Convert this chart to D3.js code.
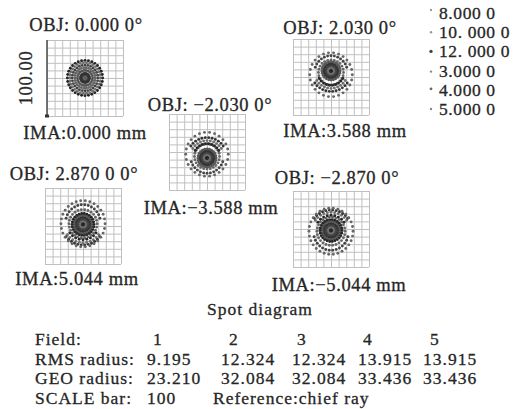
<!DOCTYPE html>
<html><head><meta charset="utf-8">
<script src="https://cdn.jsdelivr.net/npm/d3@7"></script>
<style>
html,body{margin:0;padding:0;background:#fff;}
svg{display:block;font-family:"Liberation Serif","Times New Roman",serif;}
</style></head><body>
<svg id="chart" width="520" height="409"></svg>
<script>
// ---- field and wavelength data ----
const objLabels = ["OBJ: 0.000 0°", "OBJ: 2.030 0°", "OBJ: −2.030 0°", "OBJ: 2.870 0 0°", "OBJ: −2.870 0°"];
const imaLabels = ["IMA:0.000 mm", "IMA:3.588 mm", "IMA:−3.588 mm", "IMA:5.044 mm", "IMA:−5.044 mm"];
const fieldNumbers = ["1", "2", "3", "4", "5"];
const rmsRadius = ["9.195", "12.324", "12.324", "13.915", "13.915"];
const geoRadius = ["23.210", "32.084", "32.084", "33.436", "33.436"];
const wavelengths = ["8.000 0", "10. 000 0", "12. 000 0", "3.000 0", "4.000 0", "5.000 0"];
const scaleBarLabel = "100.00";
const scaleBarValue = "100";
const referenceLabel = "Reference:chief ray";
const gridTicks = [-50, -40, -30, -20, -10, 0, 10, 20, 30, 40, 50];   // µm

// Ray rings per field, in µm (y up): [cx, cy, rx, ry, rays, startDeg, endDeg, wavelengthIndex]
const ringsField1 = [
  [0, 0, 1.2, 1.2, 5, 0, 360, 2],
  [0, 0, 2.8, 2.8, 10, 0, 360, 5],
  [0, 0, 4.4, 4.4, 14, 0, 360, 0],
  [0, 0, 6.0, 6.0, 18, 0, 360, 4],
  [0, 0, 10.0, 10.0, 22, 0, 360, 3],
  [0, 0, 13.5, 13.5, 26, 0, 360, 1],
  [0, 0, 17.0, 17.0, 28, 0, 360, 0],
  [0, 0, 20.2, 20.2, 30, 0, 360, 5],
  [0, 0, 23.2, 23.2, 32, 0, 360, 2]
];
const ringsField2 = [
  [0, 8, 2.0, 2.0, 6, 0, 360, 2],
  [0, 8, 4.5, 4.5, 12, 0, 360, 5],
  [0, 8, 7.0, 7.0, 16, 0, 360, 0],
  [0, 8, 9.5, 9.5, 20, 0, 360, 4],
  [0, 8, 12.0, 12.0, 24, 0, 360, 3],
  [0, 6, 16.5, 16.5, 24, 0, 360, 1],
  [0, 5, 22.0, 23.0, 13, 20, 160, 0],
  [0, 7, 18.0, 18.0, 10, 210, 330, 2],
  [0, 7, 22.0, 22.0, 11, 212, 328, 5],
  [0, 7, 26.0, 26.0, 12, 215, 325, 4],
  [0, 3, 28.0, 29.0, 26, 0, 360, 1]
];
const ringsField3 = [
  [0, -8, 2.0, 2.0, 6, 0, 360, 2],
  [0, -8, 4.5, 4.5, 12, 0, 360, 5],
  [0, -8, 7.0, 7.0, 16, 0, 360, 0],
  [0, -8, 9.5, 9.5, 20, 0, 360, 4],
  [0, -8, 12.0, 12.0, 24, 0, 360, 3],
  [0, -6, 16.5, 16.5, 24, 0, 360, 1],
  [0, -5, 22.0, 23.0, 13, -20, -160, 0],
  [0, -7, 18.0, 18.0, 10, -210, -330, 2],
  [0, -7, 22.0, 22.0, 11, -212, -328, 5],
  [0, -7, 26.0, 26.0, 12, -215, -325, 4],
  [0, -3, 28.0, 29.0, 26, 0, 360, 1]
];
const ringsField4 = [
  [0, 2, 2.0, 2.0, 6, 0, 360, 2],
  [0, 2, 4.5, 4.5, 12, 0, 360, 5],
  [0, 2, 7.0, 7.0, 16, 0, 360, 0],
  [0, 2, 9.5, 9.5, 20, 0, 360, 4],
  [0, 2, 12.0, 12.0, 24, 0, 360, 3],
  [0, 2, 14.5, 14.5, 26, 0, 360, 2],
  [0, 3, 18.5, 18.5, 26, 0, 360, 1],
  [0, 4, 23.0, 24.0, 14, 15, 165, 0],
  [0, 3, 21.0, 21.0, 9, 215, 325, 2],
  [0, 3, 25.0, 25.0, 11, 215, 325, 5],
  [0, 3, 28.0, 28.0, 12, 218, 322, 4],
  [0, 3, 29.0, 30.4, 30, 0, 360, 1]
];
const ringsField5 = [
  [0, -2, 2.0, 2.0, 6, 0, 360, 2],
  [0, -2, 4.5, 4.5, 12, 0, 360, 5],
  [0, -2, 7.0, 7.0, 16, 0, 360, 0],
  [0, -2, 9.5, 9.5, 20, 0, 360, 4],
  [0, -2, 12.0, 12.0, 24, 0, 360, 3],
  [0, -2, 14.5, 14.5, 26, 0, 360, 2],
  [0, -3, 18.5, 18.5, 26, 0, 360, 1],
  [0, -4, 23.0, 24.0, 14, -15, -165, 0],
  [0, -3, 21.0, 21.0, 9, -215, -325, 2],
  [0, -3, 25.0, 25.0, 11, -215, -325, 5],
  [0, -3, 28.0, 28.0, 12, -218, -322, 4],
  [0, -3, 29.0, 30.4, 30, 0, 360, 1]
];
const fieldRings = [ringsField1, ringsField2, ringsField3, ringsField4, ringsField5];

// ---- layout & styles ----
const BOX = 76;
const TEXT = "#262626";
const FONT = 18.5;
const shade = ["#444", "#666", "#262626", "#555", "#333", "#707070"];
const panels = [
  {x: 47, y: 40, tx: 86, ty: 31, ix: 85, iy: 139, bar: true},
  {x: 293, y: 39, tx: 340, ty: 34, ix: 345, iy: 137},
  {x: 169, y: 114, tx: 210, ty: 111, ix: 211, iy: 214},
  {x: 45, y: 188, tx: 74, ty: 180, ix: 77, iy: 285},
  {x: 293, y: 191, tx: 337, ty: 184, ix: 339, iy: 291}
];

const svg = d3.select("#chart");

function rayPoints(ring) {
  const [cx, cy, rx, ry, n, a0, a1] = ring;
  const full = Math.abs(a1 - a0) >= 360;
  const pts = [];
  for (let k = 0; k < n; k++) {
    const t = full ? k / n : (n > 1 ? k / (n - 1) : 0);
    const a = (a0 + (a1 - a0) * t) * Math.PI / 180;
    pts.push({x: cx + rx * Math.cos(a), y: cy + ry * Math.sin(a), w: ring[7]});
  }
  return pts;
}

function label(sel, x, y, str, size, spacing, anchor) {
  return sel.append("text").attr("x", x).attr("y", y)
    .attr("text-anchor", anchor || "start")
    .attr("font-size", size).attr("letter-spacing", spacing)
    .attr("fill", TEXT).attr("stroke", TEXT).attr("stroke-width", 0.3)
    .text(str);
}

panels.forEach((p, i) => {
  const x = d3.scaleLinear().domain([-50, 50]).range([p.x, p.x + BOX]);
  const y = d3.scaleLinear().domain([-50, 50]).range([p.y + BOX, p.y]);
  const g = svg.append("g");

  // grid drawn with axes
  const gx = g.append("g").attr("transform", `translate(0,${p.y + BOX})`)
    .call(d3.axisBottom(x).tickValues(gridTicks).tickSize(-BOX).tickFormat(""));
  const gy = g.append("g").attr("transform", `translate(${p.x},0)`)
    .call(d3.axisLeft(y).tickValues(gridTicks).tickSize(-BOX).tickFormat(""));
  [gx, gy].forEach(a => {
    a.select(".domain").remove();
    a.selectAll("line").attr("stroke", "#c0c0c0").attr("stroke-width", 1);
  });

  // spot
  const pts = fieldRings[i].flatMap(rayPoints);
  g.append("g").selectAll("circle").data(pts).join("circle")
    .attr("cx", d => x(d.x)).attr("cy", d => y(d.y))
    .attr("r", 1.45).attr("fill", d => shade[d.w]);

  // scale bar
  if (p.bar) {
    g.append("line").attr("x1", x(-50)).attr("x2", x(-50))
      .attr("y1", y(50)).attr("y2", y(-50))
      .attr("stroke", "#555").attr("stroke-width", 1.6);
    g.append("rect").attr("x", x(-50) - 2).attr("y", y(-50) - 1.5).attr("width", 4).attr("height", 3).attr("fill", "#333");
    g.append("text").attr("transform", `translate(${p.x - 15},${y(0)}) rotate(-90)`)
      .attr("text-anchor", "middle").attr("font-size", FONT).attr("letter-spacing", 0.6)
      .attr("fill", TEXT).attr("stroke", TEXT).attr("stroke-width", 0.3).text(scaleBarLabel);
  }

  label(g, p.tx, p.ty, objLabels[i], FONT, 0.6, "middle");
  label(g, p.ix, p.iy, imaLabels[i], FONT, 0.6, "middle");
});

// wavelength legend
const legendY = d3.scalePoint().domain(wavelengths).range([19, 115]);
const legendDot = [{r: 1.0, c: "#777", dy: -9}, {r: 1.2, c: "#999", dy: -6}, {r: 1.7, c: "#444", dy: -6},
                   {r: 1.2, c: "#888", dy: -5}, {r: 1.4, c: "#666", dy: -7}, {r: 1.2, c: "#888", dy: -6}];
const leg = svg.append("g");
wavelengths.forEach((w, i) => {
  leg.append("circle").attr("cx", 431).attr("cy", legendY(w) + legendDot[i].dy)
    .attr("r", legendDot[i].r).attr("fill", legendDot[i].c);
  label(leg, 439, legendY(w), w, 17.5, 0.6);
});

// summary table
label(svg, 260, 315, "Spot diagram", 17.5, 1.0, "middle");
const colX = [147, 221, 292, 358, 423];
const fieldX = [153, 229, 297, 363, 430];
const rowY = [345, 364.5, 384, 403.5];
const TF = 17.5;
const TS = 1.0;
const tbl = svg.append("g");
label(tbl, 35, rowY[0], "Field:", TF, TS);
fieldNumbers.forEach((v, ci) => label(tbl, fieldX[ci], rowY[0], v, TF, TS));
label(tbl, 35, rowY[1], "RMS radius:", TF, TS);
rmsRadius.forEach((v, ci) => label(tbl, colX[ci], rowY[1], v, TF, TS));
label(tbl, 35, rowY[2], "GEO radius:", TF, TS);
geoRadius.forEach((v, ci) => label(tbl, colX[ci], rowY[2], v, TF, TS));
label(tbl, 35, rowY[3], "SCALE bar:", TF, TS);
label(tbl, colX[0], rowY[3], scaleBarValue, TF, TS);
label(tbl, 213, rowY[3], referenceLabel, TF, TS);
</script>
</body></html>
